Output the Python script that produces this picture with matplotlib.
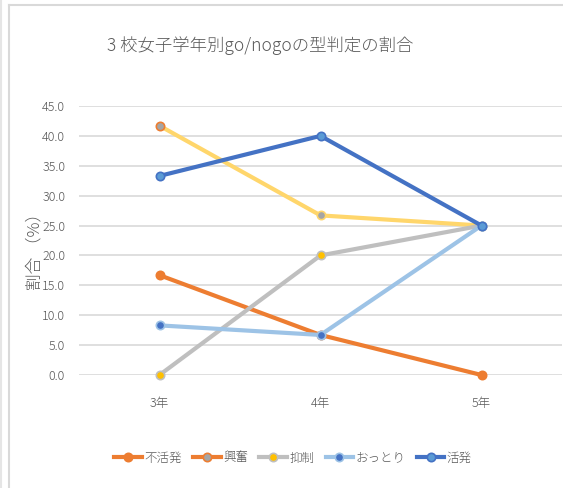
import matplotlib
matplotlib.use('Agg')
import matplotlib.pyplot as plt
from matplotlib.lines import Line2D

plt.rcParams['font.family'] = ['Noto Sans CJK JP', 'DejaVu Sans']

# ── Data ──────────────────────────────────────────────────────────────────────
grades = ['3年', '4年', '5年']
series_names = ['不活発', '興奮', '抑制', 'おっとり', '活発']
inactive = [16.7, 6.7, 0.0]
excited = [41.7, 26.7, 25.0]
inhibited = [0.0, 20.0, 25.0]
gentle = [8.3, 6.7, 25.0]
active = [33.3, 40.0, 25.0]
yticks = [0, 5, 10, 15, 20, 25, 30, 35, 40, 45]

# ── Style ─────────────────────────────────────────────────────────────────────
ORANGE = '#ED7D31'
GRAY = '#A5A5A5'
LGRAY = '#BFBFBF'
YELLOW = '#FFC000'
LYELLOW = '#FFD66B'
BLUE = '#4472C4'
MBLUE = '#5B9BD5'
LBLUE = '#9DC3E6'
TXT = '#595959'

# (line colour, marker face, marker edges per point)
styles = [
    (ORANGE, ORANGE, [ORANGE, ORANGE, ORANGE]),
    (LYELLOW, GRAY, [ORANGE, LYELLOW, LYELLOW]),
    (LGRAY, YELLOW, [LGRAY, LGRAY, LGRAY]),
    (LBLUE, BLUE, [LBLUE, LBLUE, LBLUE]),
    (BLUE, MBLUE, [BLUE, BLUE, BLUE]),
]
legend_styles = [
    (ORANGE, ORANGE),
    (ORANGE, GRAY),
    (LGRAY, YELLOW),
    (LBLUE, BLUE),
    (BLUE, MBLUE),
]

fig = plt.figure(figsize=(5.63, 4.88), dpi=100, facecolor='white')

# outer chart frame edges
fig.add_artist(Line2D([0.016, 0.016], [0, 0.99], color='#D9D9D9', lw=1.5,
                      transform=fig.transFigure))
fig.add_artist(Line2D([0.002, 0.002], [0, 1], color='#E5E5E5', lw=1.5,
                      transform=fig.transFigure))
fig.add_artist(Line2D([0.016, 1], [0.99, 0.99], color='#D9D9D9', lw=1.5,
                      transform=fig.transFigure))

ax = fig.add_axes([79 / 563, 1 - 375 / 488, (562 - 79) / 563, (375 - 106) / 488])
ax.set_xlim(-0.5, 2.5)
ax.set_ylim(0, 45)

x = range(len(grades))
all_series = [inactive, excited, inhibited, gentle, active]
for i, (vals, (lc, mf, edges)) in enumerate(zip(all_series, styles)):
    ax.plot(x, vals, color=lc, lw=3.0, solid_capstyle='round', zorder=3 + i,
            clip_on=False)
    for xi, v, ec in zip(x, vals, edges):
        ax.plot(xi, v, marker='o', ms=6, mfc=mf, mec=ec, mew=1.2,
                linestyle='none', zorder=3 + i, clip_on=False)

ax.set_yticks(yticks)
ax.set_yticklabels([f'{v:.1f}' for v in yticks])
ax.set_xticks(list(x))
ax.set_xticklabels(grades)
ax.tick_params(axis='both', length=0, colors=TXT, labelsize=9)
ax.tick_params(axis='x', pad=16)
ax.tick_params(axis='y', pad=10)
for lab in ax.get_yticklabels() + ax.get_xticklabels():
    lab.set_fontweight('light')
ax.grid(axis='y', color='#D9D9D9', lw=1.2)
ax.set_axisbelow(True)
for s in ax.spines.values():
    s.set_visible(False)

fig.text(35 / 563, 1 - 247 / 488, '割合 （%）', rotation=90, ha='center',
         va='center', color=TXT, fontsize=12, fontweight='light')

fig.text(260 / 563, 1 - 46 / 488, '3 校女子学年別go/nogoの型判定の割合',
         ha='center', va='center', color=TXT, fontsize=12.5, fontweight='light')

handles = [Line2D([0], [0], color=lc, lw=3.0, marker='o', ms=6, mfc=mf,
                  mec=lc, mew=1.2) for lc, mf in legend_styles]
leg = fig.legend(handles, series_names, loc='center',
                 bbox_to_anchor=(293 / 563, 1 - 458 / 488), ncol=5,
                 frameon=False, handlelength=2.2, handletextpad=0.2,
                 columnspacing=0.9, fontsize=9)
for t in leg.get_texts():
    t.set_color(TXT)
    t.set_fontweight('light')

fig.savefig('out.png', dpi=100, facecolor='white')
